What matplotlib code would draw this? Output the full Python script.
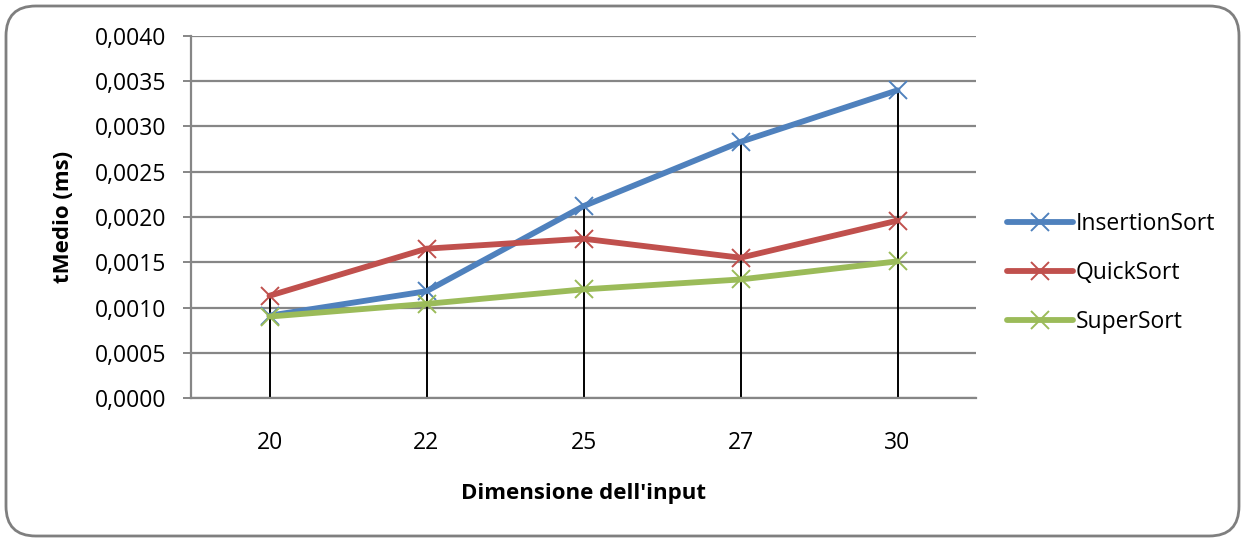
import matplotlib
matplotlib.use("Agg")
import matplotlib.pyplot as plt
from matplotlib.patches import FancyBboxPatch
from matplotlib.ticker import FuncFormatter, MultipleLocator
from matplotlib.lines import Line2D

# Input sizes and average times (ms)
sizes = ["20", "22", "25", "27", "30"]
insertion_sort = [0.00091, 0.00118, 0.00212, 0.00283, 0.00340]
quick_sort = [0.00113, 0.00165, 0.00176, 0.00155, 0.00196]
super_sort = [0.00090, 0.00104, 0.00120, 0.00131, 0.00151]

series_names = ["InsertionSort", "QuickSort", "SuperSort"]
series_colors = ["#4F81BD", "#C0504D", "#9BBB59"]

plt.rcParams["font.family"] = ["Open Sans", "DejaVu Sans"]
FS = 16.5
FS_LABEL = 16

fig = plt.figure(figsize=(12.42, 5.39), dpi=100)

# rounded chart-area border
border = FancyBboxPatch((6 / 1242, 3 / 539), 1233 / 1242, 530 / 539,
                        boxstyle="round,pad=0,rounding_size=0.024",
                        transform=fig.transFigure, facecolor="white",
                        edgecolor="#7F7F7F", linewidth=2.0,
                        mutation_aspect=1242 / 539, zorder=-5)
fig.patches.append(border)

ax = fig.add_axes([191 / 1242, 1 - 398 / 539, 785 / 1242, 362 / 539])
ax.set_facecolor("none")
ax.set_zorder(2)

x = list(range(len(sizes)))
all_series = [insertion_sort, quick_sort, super_sort]

# drop lines from the highest point at each category down to the axis
for i in x:
    top = max(s[i] for s in all_series)
    ax.vlines(i, 0, top, color="black", linewidth=1.4, zorder=2)

for vals, name, col in zip(all_series, series_names, series_colors):
    ax.plot(x, vals, color=col, linewidth=4.2, marker="x", markersize=13,
            markeredgewidth=1.4, label=name, zorder=3, solid_capstyle="round")

ax.set_xlim(-0.5, len(sizes) - 0.5)
ax.set_ylim(0, 0.0040)
ax.yaxis.set_major_locator(MultipleLocator(0.0005))
ax.yaxis.set_major_formatter(FuncFormatter(lambda v, p: f"{v:.4f}".replace(".", ",")))
ax.set_xticks(x)
ax.set_xticklabels(sizes)

ax.grid(axis="y", color="#868686", linewidth=1.6, zorder=0)
ax.set_axisbelow(True)
for side in ["top", "right"]:
    ax.spines[side].set_visible(False)
ax.spines["left"].set_color("#868686")
ax.spines["bottom"].set_color("#868686")
ax.spines["left"].set_linewidth(1.6)
ax.spines["bottom"].set_linewidth(1.6)

ax.tick_params(axis="y", length=6, width=1.4, color="#868686", labelsize=FS, pad=12)
ax.tick_params(axis="x", length=0, labelsize=FS, pad=24)

ax.set_ylabel("tMedio (ms)", fontsize=FS_LABEL, fontweight="bold", labelpad=15)
ax.set_xlabel("Dimensione dell'input", fontsize=FS_LABEL, fontweight="bold", labelpad=20)

handles = [Line2D([0], [0], color=c, linewidth=4.2, marker="x", markersize=13,
                  markeredgewidth=1.4, solid_capstyle="round") for c in series_colors]
fig.legend(handles, series_names, loc="center left",
           bbox_to_anchor=(986 / 1242, 1 - 273 / 539), frameon=False,
           fontsize=FS, handlelength=2.9, handletextpad=0.1, labelspacing=1.1)

fig.savefig("out.png", dpi=100)
